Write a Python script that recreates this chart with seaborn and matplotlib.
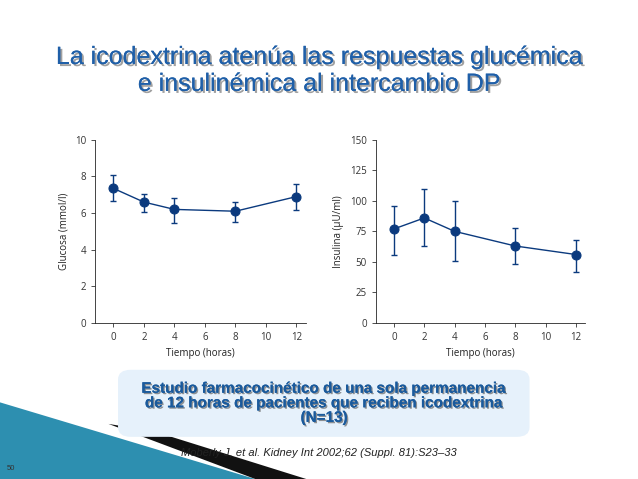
import matplotlib
matplotlib.use("Agg")
import matplotlib.pyplot as plt
import seaborn as sns
import pandas as pd
import matplotlib.patheffects as pe
from matplotlib.patches import FancyBboxPatch, Polygon

hours = [0, 2, 4, 8, 12]
glucose = [7.35, 6.6, 6.2, 6.1, 6.9]
glucose_lo = [6.65, 6.05, 5.45, 5.5, 6.15]
glucose_hi = [8.1, 7.05, 6.85, 6.6, 7.6]
insulin = [77, 86, 75, 63, 56]
insulin_lo = [56, 63, 51, 48, 42]
insulin_hi = [96, 110, 100, 78, 68]
x_ticks = [0, 2, 4, 6, 8, 10, 12]

sns.set_theme(style="ticks")
fig = plt.figure(figsize=(6.38, 4.79), dpi=100)
fig.patch.set_facecolor("white")
navy = "#0b3a7e"
lab = dict(fontsize=7, family="Open Sans", color="#222222")

def panel(rect, y, lo, hi, ylim, yticks, ylabel):
    ax = fig.add_axes(rect)
    df = pd.DataFrame({"t": hours, "v": y})
    sns.lineplot(data=df, x="t", y="v", ax=ax, color=navy, lw=1, marker="o",
                 markersize=6.5, markeredgecolor=navy)
    ax.errorbar(hours, y, yerr=[[a - b for a, b in zip(y, lo)], [b - a for a, b in zip(y, hi)]],
                fmt="none", ecolor=navy, elinewidth=1, capsize=2.5)
    ax.set_xlim(-1.2, 12.6)
    ax.set_ylim(*ylim)
    ax.set_xticks(x_ticks)
    ax.set_yticks(yticks)
    ax.tick_params(labelsize=7, length=3, width=0.6, colors="#333333")
    for s in ("top", "right"):
        ax.spines[s].set_visible(False)
    for s in ("left", "bottom"):
        ax.spines[s].set_linewidth(0.6)
    ax.set_xlabel("Tiempo (horas)", **lab)
    ax.set_ylabel(ylabel, **lab)
    for t in ax.get_xticklabels() + ax.get_yticklabels():
        t.set_family("Open Sans")
    return ax

panel([0.149, 0.326, 0.33, 0.382], glucose, glucose_lo, glucose_hi, (0, 10), [0, 2, 4, 6, 8, 10], "Glucosa (mmol/l)")
panel([0.589, 0.326, 0.328, 0.382], insulin, insulin_lo, insulin_hi, (0, 150), [0, 25, 50, 75, 100, 125, 150], "Insulina (µU/ml)")

shadow = [pe.withSimplePatchShadow(offset=(1.5, -1.5), shadow_rgbFace="#888888", alpha=0.8), pe.Normal()]
fig.text(0.5, 0.853, "La icodextrina atenúa las respuestas glucémica\ne insulinémica al intercambio DP",
         ha="center", va="center", fontsize=18, color="#1f5fa8", family="Liberation Sans",
         linespacing=1.15, path_effects=shadow)

# decorative shape bottom-left
fig.patches.append(Polygon([[0, 0], [0, 0.16], [0.40, 0.0]], closed=True, transform=fig.transFigure,
                           facecolor="#2d8fb0", edgecolor="none", zorder=0))
fig.patches.append(Polygon([[0.17, 0.115], [0.24, 0.10], [0.48, 0.0], [0.40, 0.0]], closed=True,
                           transform=fig.transFigure, facecolor="#111111", edgecolor="none", zorder=0))

box = FancyBboxPatch((0.185, 0.088), 0.645, 0.14, boxstyle="round,pad=0.0,rounding_size=0.02",
                     transform=fig.transFigure, facecolor="#e6f1fb", edgecolor="none", zorder=1)
fig.patches.append(box)
fig.text(0.508, 0.158, "Estudio farmacocinético de una sola permanencia\nde 12 horas de pacientes que reciben icodextrina\n(N=13)",
         ha="center", va="center", fontsize=11, fontweight="bold", color="#1a5a9c", family="Liberation Sans",
         linespacing=1.05, zorder=2,
         path_effects=[pe.withSimplePatchShadow(offset=(1, -1), shadow_rgbFace="#666666", alpha=0.7), pe.Normal()])
fig.text(0.5, 0.055, "Moberly J, et al. Kidney Int 2002;62 (Suppl. 81):S23–33", ha="center", va="center",
         fontsize=8, style="italic", color="#222222", family="Liberation Sans", zorder=2)
fig.text(0.01, 0.018, "50", fontsize=5.5, color="#333333", family="Liberation Sans", zorder=2)

fig.savefig("out.png", dpi=100)
